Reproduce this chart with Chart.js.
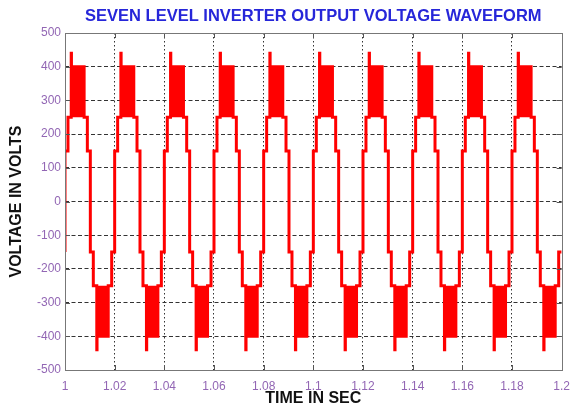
<!DOCTYPE html>
<html>
<head>
<meta charset="utf-8">
<title>Seven level inverter output voltage</title>
<script src="https://cdn.jsdelivr.net/npm/chart.js@4/dist/chart.umd.min.js"></script>
<style>
  html, body { margin: 0; padding: 0; background: #fff; }
  #wrap { width: 579px; height: 412px; }
</style>
</head>
<body>
<div id="wrap"><canvas id="waveChart" width="579" height="412"></canvas></div>
<script>
// tick labels
const timeTicks = [1, 1.02, 1.04, 1.06, 1.08, 1.1, 1.12, 1.14, 1.16, 1.18, 1.2];
const voltTicks = [-500, -400, -300, -200, -100, 0, 100, 200, 300, 400, 500];

// start of each 50 Hz cycle
const cycleStarts = [1, 1.02, 1.04, 1.06, 1.08, 1.1, 1.12, 1.14, 1.16, 1.18];

// switching instants inside one cycle (s) and the level held after each one (V)
const edgeOffsets = [0, 0.0012, 0.0025, 0.0077, 0.0090, 0.0102, 0.0114, 0.0128, 0.0174, 0.0188];
const edgeLevels  = [150, 250, 400, 250, 150, -150, -250, -400, -250, -150];

// PWM band between the two upper levels, and the overshoot at its start
const pwmBandPos = [250, 400];
const pwmBandNeg = [-250, -400];
const overshoot = [440, -440];

const FONT = "'Liberation Sans', Arial, sans-serif";

// build the staircase
const wave = [{ x: 1, y: -150 }];
const bandPos = [];
const bandNeg = [];
cycleStarts.forEach(c => {
    edgeOffsets.forEach((off, i) => {
        const t = c + off;
        const lvl = edgeLevels[i];
        if (lvl === pwmBandPos[1]) {
            wave.push({ x: t, y: overshoot[0] });
            wave.push({ x: t + 0.0001, y: lvl });
            bandPos.push({ x: t, y: lvl }, { x: c + edgeOffsets[i + 1], y: lvl }, { x: c + edgeOffsets[i + 1], y: null });
        } else if (lvl === pwmBandNeg[1]) {
            wave.push({ x: t, y: overshoot[1] });
            wave.push({ x: t + 0.0001, y: lvl });
            bandNeg.push({ x: t, y: lvl }, { x: c + edgeOffsets[i + 1], y: lvl }, { x: c + edgeOffsets[i + 1], y: null });
        } else {
            wave.push({ x: t, y: lvl });
        }
    });
});
wave.push({ x: 1.2, y: -150 });

// inward tick marks and plot box
const boxPlugin = {
    id: 'boxTicks',
    afterDraw(chart) {
        const { ctx, chartArea: a, scales } = chart;
        ctx.save();
        ctx.strokeStyle = '#555';
        ctx.lineWidth = 1;
        ctx.beginPath();
        timeTicks.slice(1, -1).forEach(v => {
            const x = Math.round(scales.x.getPixelForValue(v)) + 0.5;
            ctx.moveTo(x, a.bottom); ctx.lineTo(x, a.bottom - 5);
            ctx.moveTo(x, a.top); ctx.lineTo(x, a.top + 5);
        });
        voltTicks.slice(1, -1).forEach(v => {
            const y = Math.round(scales.y.getPixelForValue(v)) + 0.5;
            ctx.moveTo(a.left, y); ctx.lineTo(a.left + 5, y);
            ctx.moveTo(a.right, y); ctx.lineTo(a.right - 5, y);
        });
        ctx.stroke();
        ctx.strokeStyle = '#777';
        ctx.strokeRect(Math.round(a.left) + 0.5, Math.round(a.top) + 0.5,
            Math.round(a.right - a.left), Math.round(a.bottom - a.top));
        ctx.restore();
    }
};

const edgeHidden = c => (c.index === 0 || c.index === c.chart.scales[c.scale.id].ticks.length - 1)
    ? 'rgba(0,0,0,0)' : '#333';

new Chart(document.getElementById('waveChart'), {
    type: 'line',
    data: {
        datasets: [
            {
                label: 'Output voltage',
                data: wave,
                borderColor: '#ff0000',
                borderWidth: 3,
                stepped: true,
                pointRadius: 0,
                fill: false,
                clip: 0
            },
            {
                label: 'pwm+',
                data: bandPos,
                borderWidth: 0,
                pointRadius: 0,
                backgroundColor: '#ff0000',
                fill: { value: pwmBandPos[0] },
                clip: 0
            },
            {
                label: 'pwm-',
                data: bandNeg,
                borderWidth: 0,
                pointRadius: 0,
                backgroundColor: '#ff0000',
                fill: { value: pwmBandNeg[0] },
                clip: 0
            }
        ]
    },
    options: {
        responsive: false,
        animation: false,
        layout: { padding: { left: 0, right: 9, top: 0, bottom: 0 } },
        plugins: {
            legend: { display: false },
            tooltip: { enabled: false },
            title: {
                display: true,
                fullSize: false,
                text: 'SEVEN LEVEL INVERTER OUTPUT VOLTAGE WAVEFORM',
                color: '#2626d9',
                font: { family: FONT, size: 16.5, weight: 'bold' },
                padding: { top: 6.5, bottom: 6.7 }
            }
        },
        scales: {
            x: {
                type: 'linear',
                min: 1,
                max: 1.2,
                afterBuildTicks: s => { s.ticks = timeTicks.map(v => ({ value: v })); },
                afterFit: s => { s.height = 42; },
                ticks: {
                    autoSkip: false,
                    maxRotation: 0,
                    padding: 9,
                    color: '#9266b4',
                    font: { family: FONT, size: 12 },
                    callback: v => String(Math.round(v * 100) / 100)
                },
                grid: { drawTicks: false, color: edgeHidden, lineWidth: 1 },
                border: { display: false, dash: [1.5, 2.5] },
                title: {
                    display: true,
                    text: 'TIME IN SEC',
                    color: '#111',
                    font: { family: FONT, size: 16, weight: 'bold' },
                    padding: { top: 0, bottom: 4 }
                }
            },
            y: {
                min: -500,
                max: 500,
                afterBuildTicks: s => { s.ticks = voltTicks.map(v => ({ value: v })); },
                afterFit: s => { s.width = 65; },
                ticks: {
                    padding: 4,
                    color: '#9266b4',
                    font: { family: FONT, size: 12 }
                },
                grid: { drawTicks: false, color: edgeHidden, lineWidth: 1 },
                border: { display: false, dash: [4, 2.5] },
                title: {
                    display: true,
                    text: 'VOLTAGE IN VOLTS',
                    color: '#111',
                    font: { family: FONT, size: 16, weight: 'bold' },
                    padding: { top: 7, bottom: 0 }
                }
            }
        }
    },
    plugins: [boxPlugin]
});
</script>
</body>
</html>
